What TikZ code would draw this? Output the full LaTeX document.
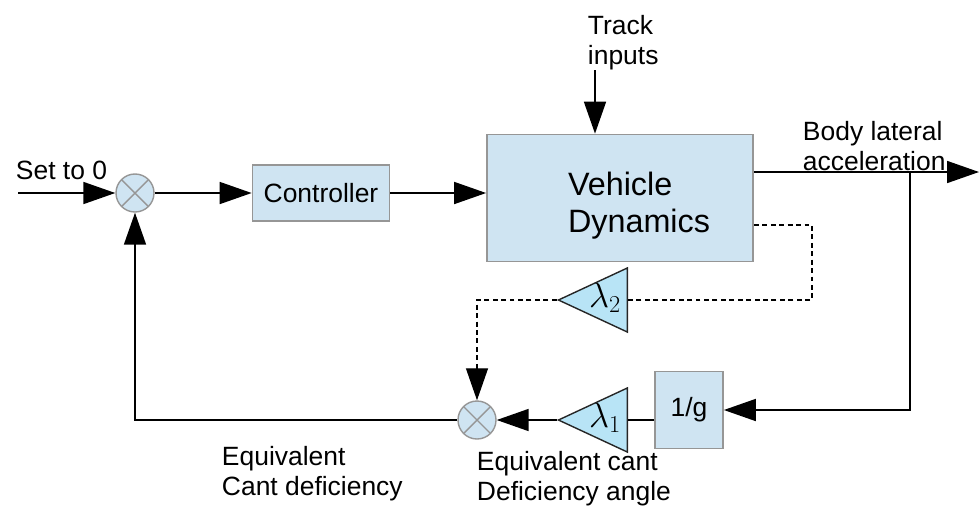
\documentclass[tikz,border=0pt]{standalone}
\usepackage{fontspec}
\setmainfont{Liberation Sans}
\usetikzlibrary{arrows.meta, positioning, shapes.geometric}
\definecolor{blkfill}{RGB}{207,228,242}
\definecolor{gainfill}{RGB}{184,228,246}
\definecolor{blkgray}{RGB}{150,150,150}

\begin{document}
\begin{tikzpicture}[
      x=0.025cm, y=-0.025cm,
      font=\fontsize{18.8}{21.3}\selectfont,
      block/.style={draw=blkgray, fill=blkfill, line width=1.2pt, inner sep=0pt},
      gain/.style={isosceles triangle, shape border rotate=180,
                   isosceles triangle stretches, draw=black!85, fill=gainfill,
                   line width=1pt, minimum height=1.72cm, minimum width=1.6cm,
                   inner sep=0pt, anchor=east},
      gaintxt/.style={font=\fontsize{23}{26}\selectfont, inner sep=0pt},
      sumjn/.style={circle, draw=blkgray, fill=blkfill, minimum size=0.95cm,
                    line width=1pt, path picture={
                      \draw[blkgray, line width=1pt]
                        (path picture bounding box.north west) -- (path picture bounding box.south east)
                        (path picture bounding box.north east) -- (path picture bounding box.south west);}},
      arr/.style={-{Triangle[length=0.8cm, width=0.55cm]}, line width=1.2pt},
      dsh/.style={line width=0.9pt, dash pattern=on 3.5pt off 2.5pt}
    ]
    \useasboundingbox (0,0) rectangle (980,509);

    \node[sumjn] (sum1) at (135,193) {};
    \node[block, minimum width=3.425cm, minimum height=1.4cm] (ctrl) at (321,193) {Controller};
    \node[block, minimum width=6.65cm, minimum height=3.175cm] (veh) at (620,198) {};
    \node[align=left, font=\fontsize{23}{26.3}\selectfont] (vehtxt) at (639,206) {Vehicle\\Dynamics};
    \node[block, minimum width=1.7cm, minimum height=1.925cm] (recg) at (689,410) {1/g};
    \node[gain] (lam1) at (628,420) {};
    \node[gain] (lam2) at (628,300) {};
    \node[gaintxt] (lam1txt) at (605,418) {$\lambda_1$};
    \node[gaintxt] (lam2txt) at (605,298) {$\lambda_2$};
    \node[sumjn] (sum2) at (477,420) {};

    \node[anchor=west] (setz) at (11,170) {Set to 0};
    \node[anchor=west, align=left] (trk) at (583,43) {Track\\inputs};
    \node[anchor=west, align=left] (bla) at (798,146) {Body lateral\\acceleration};
    \node[anchor=west, align=left] (ecd) at (217,474) {Equivalent\\Cant deficiency};
    \node[anchor=west, align=left] (eca) at (472,479) {Equivalent cant\\Deficiency angle};

    \coordinate (in)    at (18,193);
    \coordinate (trkin) at (595,70);
    \coordinate (tap)   at (910,172);
    \coordinate (out)   at (979,172);
    \coordinate (dtap)  at (812,225);

    \draw[arr] (in)   -- (sum1);
    \draw[arr] (sum1) -- (ctrl);
    \draw[arr] (ctrl) -- (ctrl -| veh.west);
    \draw[arr] (trkin) -- (trkin |- veh.north);
    \draw[arr] (veh.east |- tap) -- (out);
    \draw[arr] (tap) |- (recg);
    \draw[line width=1.2pt] (recg.west |- lam1.east) -- (lam1.east);
    \draw[arr] (lam1.apex) -- (sum2);
    \draw[arr] (sum2) -| (sum1);
    \draw[dsh] (veh.east |- dtap) -- (dtap) |- (lam2.east);
    \draw[arr, dsh] (lam2.apex) -| (sum2);
  \end{tikzpicture}
\end{document}
